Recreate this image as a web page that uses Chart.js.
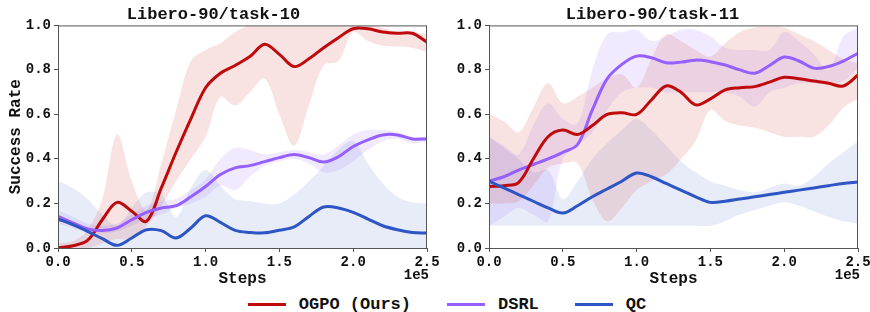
<!DOCTYPE html>
<html>
<head>
<meta charset="utf-8">
<script src="https://cdn.jsdelivr.net/npm/chart.js@4"></script>
<style>
  body { margin: 0; background: #fff; width: 870px; height: 312px; overflow: hidden; position: relative; }
  #c10 { position: absolute; left: 0; top: 0; }
  #c11 { position: absolute; left: 447px; top: 0; }
  #legend { position: absolute; left: 12px; top: 295px; width: 870px; display: flex; justify-content: center; align-items: center;
            font: bold 17px 'Liberation Mono', 'DejaVu Sans Mono', monospace; color: #111; }
  .item { display: flex; align-items: center; margin: 0 18px; }
  .swatch { width: 38px; height: 3px; margin-right: 13px; }
</style>
</head>
<body>
<canvas id="c10" width="447" height="293"></canvas>
<canvas id="c11" width="423" height="293"></canvas>
<div id="legend">
  <div class="item"><span class="swatch" style="background:rgb(190,10,10)"></span>OGPO (Ours)</div>
  <div class="item"><span class="swatch" style="background:rgb(150,95,255)"></span>DSRL</div>
  <div class="item"><span class="swatch" style="background:rgb(45,85,195)"></span>QC</div>
</div>
<script>
// env steps, every 1e4
const steps = [0,10000,20000,30000,40000,50000,60000,70000,80000,90000,100000,110000,120000,130000,140000,150000,160000,170000,180000,190000,200000,210000,220000,230000,240000,250000]
const yTicks = [0, 0.2, 0.4, 0.6, 0.8, 1.0]

// task-10
const ogpo10   = [0.00,0.01,0.034,0.127,0.205,0.165,0.12,0.27,0.43,0.58,0.72,0.785,0.82,0.86,0.915,0.87,0.815,0.85,0.90,0.945,0.985,0.985,0.97,0.965,0.965,0.925]
const ogpo10Hi = [0.02,0.03,0.08,0.22,0.51,0.30,0.17,0.38,0.62,0.84,0.89,0.92,0.97,1.0,1.0,1.0,1.0,1.0,1.0,1.0,1.0,1.0,0.99,0.97,0.97,0.96]
const ogpo10Lo = [0.00,0.00,0.00,0.02,0.04,0.04,0.10,0.19,0.30,0.40,0.50,0.68,0.64,0.70,0.76,0.60,0.46,0.64,0.82,0.84,0.97,0.93,0.91,0.905,0.90,0.88]
const dsrl10   = [0.142,0.113,0.086,0.079,0.09,0.127,0.16,0.18,0.19,0.23,0.276,0.33,0.36,0.37,0.388,0.406,0.42,0.406,0.386,0.41,0.456,0.486,0.508,0.508,0.49,0.49]
const dsrl10Hi = [0.17,0.14,0.11,0.10,0.11,0.15,0.19,0.21,0.22,0.26,0.31,0.40,0.45,0.44,0.42,0.43,0.44,0.43,0.42,0.46,0.51,0.53,0.53,0.52,0.50,0.50]
const dsrl10Lo = [0.11,0.09,0.07,0.065,0.075,0.10,0.13,0.15,0.18,0.20,0.23,0.28,0.26,0.32,0.37,0.39,0.40,0.38,0.34,0.35,0.39,0.44,0.48,0.49,0.47,0.48]
const qc10     = [0.13,0.105,0.075,0.042,0.012,0.045,0.082,0.078,0.045,0.09,0.145,0.115,0.079,0.07,0.068,0.08,0.095,0.142,0.184,0.18,0.16,0.13,0.10,0.082,0.07,0.067]
const qc10Hi   = [0.30,0.27,0.22,0.15,0.10,0.18,0.25,0.24,0.14,0.27,0.35,0.28,0.22,0.21,0.20,0.20,0.24,0.30,0.37,0.44,0.48,0.38,0.29,0.23,0.205,0.20]
const qc10Lo   = [0,0,0,0,0,0,0,0,0,0,0,0,0,0,0,0,0,0,0,0,0,0,0,0,0,0]

// task-11
const ogpo11   = [0.276,0.28,0.294,0.40,0.50,0.53,0.51,0.55,0.60,0.608,0.60,0.665,0.728,0.70,0.643,0.67,0.71,0.72,0.725,0.745,0.767,0.76,0.75,0.74,0.728,0.777]
const ogpo11Hi = [0.60,0.57,0.52,0.63,0.74,0.65,0.68,0.72,0.76,0.78,0.72,0.85,0.96,0.93,0.89,0.86,0.92,0.97,0.99,0.995,0.99,0.96,0.93,0.89,0.85,0.83]
const ogpo11Lo = [0.20,0.20,0.21,0.28,0.36,0.38,0.38,0.22,0.12,0.18,0.26,0.30,0.33,0.40,0.48,0.62,0.57,0.55,0.54,0.52,0.50,0.50,0.50,0.55,0.63,0.67]
const dsrl11   = [0.30,0.32,0.35,0.375,0.40,0.43,0.465,0.62,0.76,0.825,0.862,0.855,0.832,0.835,0.844,0.837,0.822,0.80,0.785,0.82,0.858,0.84,0.808,0.815,0.84,0.875]
const dsrl11Hi = [0.50,0.46,0.42,0.55,0.65,0.58,0.56,0.80,0.96,0.97,0.98,0.93,0.95,0.98,0.98,0.95,0.90,0.89,0.89,0.89,0.97,0.93,0.87,0.80,0.95,0.99]
const dsrl11Lo = [0.10,0.14,0.18,0.15,0.12,0.40,0.46,0.52,0.62,0.70,0.72,0.72,0.70,0.70,0.70,0.70,0.70,0.68,0.635,0.70,0.72,0.74,0.74,0.74,0.75,0.81]
const qc11     = [0.30,0.27,0.24,0.21,0.18,0.157,0.19,0.23,0.265,0.30,0.337,0.32,0.29,0.26,0.23,0.205,0.21,0.22,0.23,0.24,0.25,0.26,0.27,0.28,0.29,0.297]
const qc11Hi   = [0.50,0.45,0.40,0.34,0.35,0.22,0.30,0.40,0.47,0.53,0.58,0.53,0.46,0.39,0.34,0.30,0.28,0.26,0.25,0.27,0.29,0.28,0.32,0.38,0.43,0.48]
const qc11Lo   = [0.10,0.10,0.10,0.10,0.10,0.10,0.10,0.10,0.10,0.10,0.10,0.10,0.10,0.10,0.10,0.10,0.12,0.15,0.17,0.19,0.205,0.19,0.165,0.14,0.12,0.11]

const RED = 'rgb(190,10,10)', PURPLE = 'rgb(150,95,255)', BLUE = 'rgb(45,85,195)'
const MONO = "'Liberation Mono', 'DejaVu Sans Mono', monospace"

function pts(vals) {
  return vals.map((v, i) => ({x: steps[i], y: v}))
}

// upper + lower band pair, upper fills down to next dataset
function band(hi, lo, color) {
  return [
    {data: pts(hi), borderWidth: 0, pointRadius: 0, tension: 0.35, fill: '+1', backgroundColor: color, order: 10},
    {data: pts(lo), borderWidth: 0, pointRadius: 0, tension: 0.35, fill: false, order: 10}
  ]
}

function line(vals, color) {
  return {data: pts(vals), borderColor: color, borderWidth: 3, pointRadius: 0, tension: 0.35, fill: false, order: 1}
}

// frame around plot + "1e5" offset label
const framePlugin = {
  id: 'frame',
  afterDraw(chart) {
    const {ctx, chartArea: a} = chart
    ctx.save()
    ctx.strokeStyle = '#555'
    ctx.lineWidth = 1
    ctx.strokeRect(a.left + 0.5, a.top + 0.5, a.right - a.left - 1, a.bottom - a.top)
    ctx.fillStyle = '#111'
    ctx.font = 'bold 14px ' + MONO
    ctx.textAlign = 'right'
    ctx.textBaseline = 'middle'
    ctx.fillText('1e5', a.right + 2, a.bottom + 27)
    ctx.restore()
  }
}

function makeChart(canvas, title, sets, yWidth, padRight, showYTitle) {
  return new Chart(canvas.getContext('2d'), {
    type: 'line',
    data: {datasets: sets},
    options: {
      responsive: false,
      animation: false,
      layout: {padding: {left: 0, right: padRight, top: 0, bottom: 0}},
      plugins: {
        legend: {display: false},
        tooltip: {enabled: false},
        title: {display: true, text: title, color: '#111', font: {family: MONO, size: 17, weight: 'bold'}, padding: {top: 5, bottom: 0}}
      },
      scales: {
        x: {
          type: 'linear', min: 0, max: 250000,
          ticks: {stepSize: 50000, color: '#111', font: {family: MONO, size: 14, weight: 'bold'}, padding: 2, maxRotation: 0,
                  callback: v => (v / 1e5).toFixed(1)},
          grid: {drawOnChartArea: false, drawTicks: true, tickLength: 4, color: '#555'},
          border: {color: '#555'},
          title: {display: true, text: 'Steps', color: '#111', font: {family: MONO, size: 16, weight: 'bold'}, padding: {top: 6}},
          afterFit(s) { s.height = 45; s.paddingLeft = 0; s.paddingRight = 0 }
        },
        y: {
          min: 0, max: 1,
          afterBuildTicks(s) { s.ticks = yTicks.map(v => ({value: v})) },
          ticks: {color: '#111', font: {family: MONO, size: 14, weight: 'bold'}, padding: 3,
                  callback: v => v.toFixed(1)},
          grid: {drawOnChartArea: false, drawTicks: true, tickLength: 4, color: '#555'},
          border: {color: '#555'},
          title: {display: showYTitle, text: 'Success Rate', color: '#111', font: {family: MONO, size: 16, weight: 'bold'}, padding: {top: 6, bottom: 0}},
          afterFit(s) { s.width = yWidth; s.paddingTop = 0; s.paddingBottom = 0 }
        }
      }
    },
    plugins: [framePlugin]
  })
}

const sets10 = [
  ...band(ogpo10Hi, ogpo10Lo, 'rgba(200,40,30,0.13)'),
  ...band(dsrl10Hi, dsrl10Lo, 'rgba(150,95,255,0.13)'),
  ...band(qc10Hi, qc10Lo, 'rgba(45,85,195,0.11)'),
  line(qc10, BLUE),
  line(dsrl10, PURPLE),
  line(ogpo10, RED)
]
const sets11 = [
  ...band(ogpo11Hi, ogpo11Lo, 'rgba(200,40,30,0.13)'),
  ...band(dsrl11Hi, dsrl11Lo, 'rgba(150,95,255,0.13)'),
  ...band(qc11Hi, qc11Lo, 'rgba(45,85,195,0.11)'),
  line(qc11, BLUE),
  line(ogpo11, RED),
  line(dsrl11, PURPLE)
]

makeChart(document.querySelector('#c10'), 'Libero-90/task-10', sets10, 58, 20, true)
makeChart(document.querySelector('#c11'), 'Libero-90/task-11', sets11, 42, 12, false)
</script>
</body>
</html>
